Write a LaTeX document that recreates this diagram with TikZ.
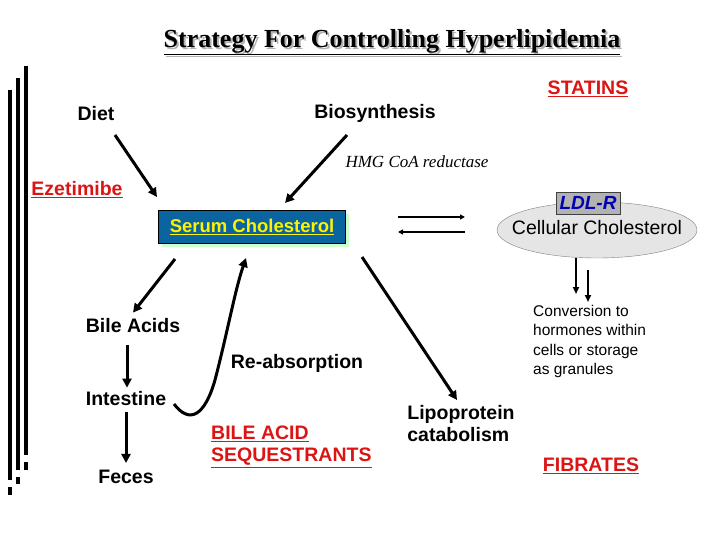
\documentclass[tikz,border=0pt]{standalone}
\usepackage{fontspec}
\setmainfont{Liberation Sans}
\newfontfamily\titlefont{Liberation Serif}
\usetikzlibrary{positioning,shapes.geometric,arrows.meta}
\definecolor{drugred}{RGB}{220,20,20}
\definecolor{serumblue}{RGB}{10,100,160}
\tikzset{
  lbl/.style={font=\fontsize{19.5}{22}\selectfont\bfseries,inner sep=0pt},
  drug/.style={font=\fontsize{19.5}{22}\selectfont\bfseries,text=drugred,inner sep=0pt},
  arr/.style={line width=3pt,-{Triangle[length=9pt,width=9pt]}},
  bar/.style={line width=4pt}
}
\newcommand{\ul}[1]{\underline{#1}}
\begin{document}
\begin{tikzpicture}[x=1pt,y=-1pt]
\useasboundingbox (0,0) rectangle (720,540);
% left bars
\draw[bar] (26,66) -- (26,455);
\draw[bar] (26,462) -- (26,470);
\draw[bar] (18,78) -- (18,470);
\draw[bar] (18,477) -- (18,484);
\draw[bar] (10,90) -- (10,480);
\draw[bar] (10,487) -- (10,495);
% title
\node[font=\titlefont\fontsize{26}{27}\selectfont\bfseries,text=gray!60] at (394,44) {\ul{Strategy For Controlling Hyperlipidemia}};
\node (title) [font=\titlefont\fontsize{26}{27}\selectfont\bfseries] at (392,42) {\ul{Strategy For Controlling Hyperlipidemia}};
\node (statins) [drug] at (588,89) {\ul{STATINS}};
\node (diet) [lbl] at (96,114) {Diet};
\node (bio) [lbl] at (375,113) {Biosynthesis};
\node (hmg) [font=\titlefont\fontsize{17}{19}\selectfont\itshape,inner sep=0pt] at (417,162) {HMG CoA reductase};
\node (eze) [drug] at (77,190) {\ul{Ezetimibe}};
% serum cholesterol
\fill[green!20] (162,214) rectangle (349,247);
\node (serum) [draw=black,fill=serumblue,minimum width=187pt,minimum height=33pt,font=\fontsize{18.5}{20}\selectfont\bfseries,text=yellow] at (252,227) {\ul{Serum Cholesterol}};
\draw[gray,fill=gray!20] (597,230) ellipse [x radius=100pt,y radius=28pt];
\node (cell) [font=\fontsize{19.5}{21}\selectfont,inner sep=0pt] at (597,228) {Cellular Cholesterol};
\node (ldlr) [draw=gray!50!black,fill=gray!60,minimum width=64pt,minimum height=22pt,inner sep=0pt,font=\fontsize{19}{20}\selectfont\bfseries\itshape,text=blue!70!black] at (588,203) {LDL-R};
\coordinate (eqL) at (398,217);
\coordinate (eqR) at (465,217);
\draw[line width=2pt,-{Triangle[length=5pt,width=5pt]}] (eqL) -- (eqR);
\draw[line width=2pt,-{Triangle[length=5pt,width=5pt]}] ([yshift=-15pt]eqR) -- ([yshift=-15pt]eqL);
% conversion
\node (conv) [anchor=north west,align=left,font=\fontsize{15.5}{19.5}\selectfont,inner sep=0pt] at (533,305) {Conversion to\\hormones within\\cells or storage\\as granules};
\coordinate (c1) at (576,258);
\coordinate (c2) at (588,270);
\draw[line width=2pt,-{Triangle[length=7pt,width=6pt]}] (c1) -- +(0,36);
\draw[line width=2pt,-{Triangle[length=7pt,width=6pt]}] (c2) -- +(0,32);
% lower left chain
\node (bile) [lbl] at (133,326) {Bile Acids};
\node (intest) [lbl] at (126,399) {Intestine};
\node (feces) [lbl] at (126,477) {Feces};
\node (reabs) [lbl] at (297,363) {Re-absorption};
\node (lipo) [lbl,align=left] at (461,424) {Lipoprotein\\catabolism};
\node (seq) [drug,align=left,anchor=west] at (211,447) {\ul{BILE ACID}\\\ul{SEQUESTRANTS}};
\node (fib) [drug] at (591,466) {\ul{FIBRATES}};
% arrows
\draw[arr] (175,259) -- ([xshift=0pt,yshift=6pt]bile.north);
\draw[arr] (115,135) -- (157,197);
\draw[arr] (347,135) -- (285,203);
\draw[arr] ([xshift=-6pt,yshift=-12pt]bile.south) -- ([xshift=1pt,yshift=4pt]intest.north);
\draw[arr] ([yshift=-6pt]intest.south) -- ([yshift=7pt]feces.north);
\draw[arr] (174,404) .. controls (190,425) and (205,415) .. (215,380) .. controls (228,330) and (235,290) .. (246,258);
\draw[arr] (362,257) -- (457,400);
\end{tikzpicture}
\end{document}
